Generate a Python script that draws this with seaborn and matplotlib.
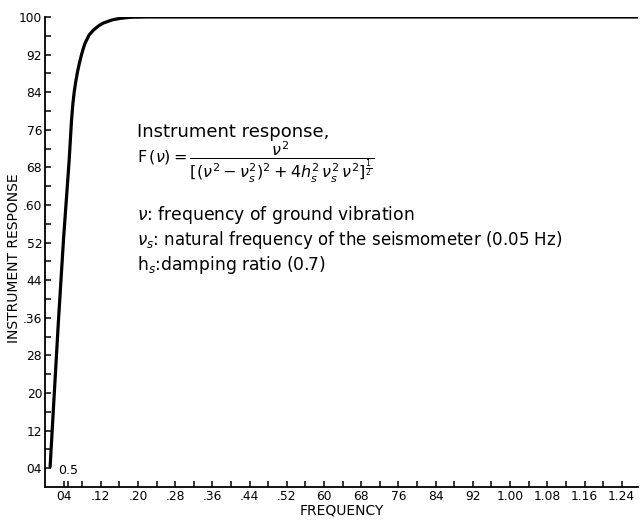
import numpy as np
import pandas as pd
import seaborn as sns
import matplotlib
matplotlib.use("Agg")
import matplotlib.pyplot as plt

# ---- data ----
frequency = [0.011, 0.020, 0.029, 0.040, 0.052, 0.057, 0.060, 0.063, 0.066, 0.070,
             0.074, 0.078, 0.082, 0.086, 0.095, 0.104, 0.115, 0.125, 0.145, 0.161,
             0.185, 0.22, 0.40, 0.80, 1.275]
response = [4.3, 20.0, 35.5, 53.0, 69.6, 78.0, 81.6, 84.2, 86.2, 88.4,
            90.2, 91.8, 93.2, 94.4, 96.2, 97.2, 98.1, 98.7, 99.4, 99.7,
            99.95, 100.0, 100.0, 100.0, 100.0]

x_tick_values = [0.04, 0.12, 0.20, 0.28, 0.36, 0.44, 0.52, 0.60, 0.68, 0.76,
                 0.84, 0.92, 1.00, 1.08, 1.16, 1.24]
x_tick_labels = ["04", ".12", ".20", ".28", ".36", ".44", ".52", "60", "68", "76",
                 "84", "92", "1.00", "1.08", "1.16", "1.24"]
y_tick_values = [4, 12, 20, 28, 36, 44, 52, 60, 68, 76, 84, 92, 100]
y_tick_labels = ["04", "12", "20", "28", ".36", "44", "52", ".60", "68", "76",
                 "84", "92", "100"]

df = pd.DataFrame({"frequency": frequency, "response": response})

sns.set_theme(style="ticks")
plt.rcParams['font.family'] = ['DejaVu Sans']
plt.rcParams['text.color'] = 'black'
plt.rcParams['axes.labelcolor'] = 'black'

fig = plt.figure(figsize=(6.4, 5.24), dpi=100)
ax = fig.add_axes([45 / 640, 1 - 487 / 524, (638 - 45) / 640, (487 - 17) / 524])

sns.lineplot(data=df, x="frequency", y="response", ax=ax, color="black",
             linewidth=2.3, solid_joinstyle="round", solid_capstyle="round")

ax.set_xlim(0, 1.275)
ax.set_ylim(0, 100)
sns.despine(ax=ax)
for s in ["left", "bottom"]:
    ax.spines[s].set_linewidth(1.3)
    ax.spines[s].set_color("black")

ax.set_xticks(x_tick_values)
ax.set_xticklabels(x_tick_labels)
ax.set_xticks(list(np.arange(0.08, 1.28, 0.08)) + [0.05], minor=True)
ax.set_yticks(y_tick_values)
ax.set_yticklabels(y_tick_labels)
ax.set_yticks(list(range(8, 100, 8)), minor=True)

ax.tick_params(axis="both", which="both", direction="in", length=4, width=1.1,
               color="black", labelsize=8.8, labelcolor="black")
ax.tick_params(axis="x", which="both", pad=2.5)
ax.tick_params(axis="y", which="both", pad=2)

ax.set_xlabel("")
ax.set_ylabel("")
fig.text(342 / 640, 1 - 510 / 524, "FREQUENCY", ha="center", va="center",
         fontsize=10, color="black")
fig.text(14 / 640, 1 - 258 / 524, "INSTRUMENT RESPONSE", ha="center", va="center",
         rotation=90, fontsize=10, color="black")

ax.text(0.0495, 3.5, "0.5", ha="center", va="center", fontsize=9, color="black")

def px(xp, yp):
    return ((xp - 45) / 593, (487 - yp) / 470)

tx, ty = px(137, 132)
ax.text(tx, ty, "Instrument response,", transform=ax.transAxes, ha="left",
        va="center", fontsize=13, color="black")
tx, ty = px(137, 162)
ax.text(tx, ty,
        r"$\mathrm{F}\,(\nu) = \dfrac{\nu^2}{[(\nu^2-\nu_s^2)^2+4h_s^2\,\nu_s^2\,\nu^2]^{\frac{1}{2}}}$",
        transform=ax.transAxes, ha="left", va="center", fontsize=11.5, color="black")
tx, ty = px(137, 215)
ax.text(tx, ty, r"$\nu$: frequency of ground vibration", transform=ax.transAxes,
        ha="left", va="center", fontsize=12.3, color="black")
tx, ty = px(137, 240)
ax.text(tx, ty, r"$\nu_s$: natural frequency of the seismometer (0.05 Hz)",
        transform=ax.transAxes, ha="left", va="center", fontsize=12, color="black")
tx, ty = px(137, 265)
ax.text(tx, ty, r"$\mathrm{h}_s$:damping ratio (0.7)", transform=ax.transAxes,
        ha="left", va="center", fontsize=12.3, color="black")

fig.savefig("out.png", dpi=100)
